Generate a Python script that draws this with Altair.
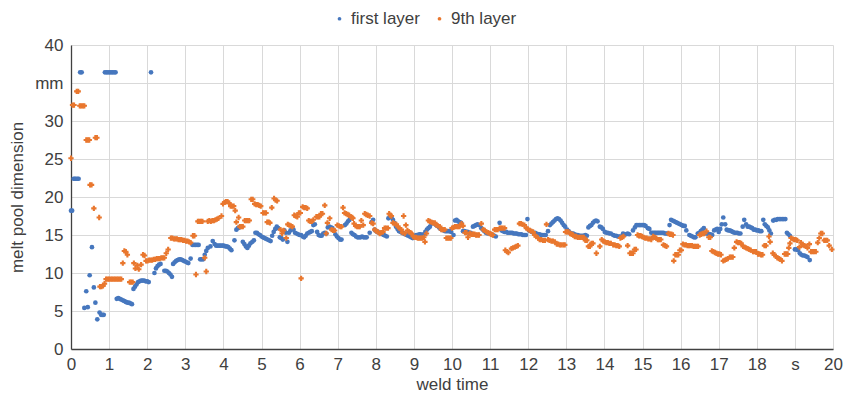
import altair as alt
import pandas as pd

# (weld time s, melt pool dimension mm)
first_layer = [
    (0.00, 18.2), (0.03, 18.2), (0.07, 22.4), (0.10, 22.4), (0.13, 22.4), (0.17, 22.4), (0.20, 22.4),
    (0.24, 36.4), (0.28, 36.4), (0.35, 5.4), (0.40, 7.6), (0.44, 5.5), (0.49, 9.7), (0.55, 13.4),
    (0.60, 8.1), (0.64, 6.1), (0.69, 3.9), (0.75, 4.8), (0.79, 4.5), (0.83, 4.5), (0.86, 4.5),
    (0.89, 36.4), (0.93, 36.4), (0.97, 36.4), (1.01, 36.4), (1.05, 36.4), (1.09, 36.4), (1.13, 36.4), (1.17, 36.4),
    (1.20, 6.6), (1.24, 6.7), (1.28, 6.6), (1.32, 6.5), (1.36, 6.4), (1.40, 6.3), (1.44, 6.2), (1.48, 6.1),
    (1.52, 6.1), (1.56, 6.0), (1.60, 5.9), (1.64, 7.9), (1.68, 8.2), (1.72, 8.5), (1.76, 8.8), (1.80, 8.9),
    (1.84, 9.0), (1.88, 9.0), (1.92, 9.0), (1.96, 8.9), (2.00, 8.9), (2.04, 8.8), (2.10, 36.4),
    (2.19, 10.0), (2.23, 10.6), (2.27, 10.9), (2.31, 11.1), (2.35, 11.2), (2.45, 10.3), (2.49, 10.3),
    (2.53, 10.2), (2.57, 10.0), (2.61, 9.8), (2.65, 9.5), (2.68, 11.2), (2.72, 11.4), (2.76, 11.6),
    (2.80, 11.7), (2.84, 11.8), (2.88, 11.8), (2.92, 11.7), (2.96, 11.6), (3.00, 11.5), (3.04, 11.4),
    (3.08, 11.3), (3.14, 11.9), (3.19, 13.7), (3.23, 13.7), (3.27, 13.7), (3.31, 13.7), (3.35, 13.7),
    (3.39, 11.8), (3.43, 11.8), (3.47, 11.8), (3.51, 12.4), (3.55, 12.9), (3.59, 13.3), (3.66, 13.5),
    (3.72, 14.2), (3.77, 13.8), (3.81, 13.6), (3.85, 13.6), (3.89, 13.6), (3.93, 13.6), (3.97, 13.6),
    (4.01, 13.6), (4.05, 13.5), (4.09, 13.5), (4.13, 13.4), (4.17, 13.2), (4.21, 13.0), (4.29, 14.3),
    (4.34, 15.7), (4.38, 15.9), (4.42, 16.0), (4.47, 16.1), (4.51, 14.1), (4.55, 13.8), (4.59, 13.5),
    (4.63, 13.3), (4.67, 13.6), (4.71, 13.9), (4.76, 14.1), (4.80, 14.3), (4.84, 15.3), (4.88, 15.3),
    (4.92, 15.1), (4.96, 15.0), (5.00, 14.8), (5.04, 14.7), (5.08, 14.6), (5.12, 14.5), (5.16, 14.4),
    (5.20, 14.3), (5.24, 14.2), (5.28, 14.9), (5.32, 15.4), (5.36, 15.8), (5.40, 16.1), (5.44, 15.9),
    (5.48, 14.7), (5.52, 14.6), (5.56, 14.4), (5.60, 15.6), (5.64, 15.3), (5.68, 14.1), (5.72, 15.3),
    (5.76, 15.6), (5.80, 15.8), (5.84, 15.7), (5.88, 15.3), (5.92, 15.2), (5.96, 15.1), (6.00, 15.0),
    (6.04, 15.0), (6.08, 14.8), (6.12, 14.7), (6.16, 14.9), (6.20, 15.2), (6.24, 15.3), (6.28, 15.4),
    (6.32, 15.5), (6.36, 16.3), (6.40, 16.4), (6.46, 15.4), (6.50, 15.0), (6.54, 14.9), (6.58, 14.9),
    (6.62, 15.2), (6.66, 15.3), (6.70, 15.2), (6.74, 16.0), (6.78, 16.1), (6.82, 16.0), (6.86, 15.9),
    (6.90, 15.6), (6.94, 15.1), (6.98, 14.8), (7.02, 14.6), (7.06, 14.4), (7.10, 14.4), (7.19, 16.3),
    (7.23, 16.5), (7.27, 16.8), (7.31, 17.0), (7.36, 15.3), (7.40, 15.1), (7.44, 15.0), (7.48, 14.8),
    (7.52, 14.7), (7.56, 14.7), (7.60, 14.7), (7.64, 14.8), (7.68, 14.7), (7.72, 14.7), (7.76, 14.7),
    (7.84, 15.3), (7.89, 16.7), (7.93, 17.0), (7.97, 15.7), (8.01, 15.5), (8.05, 15.4), (8.09, 15.3),
    (8.13, 15.2), (8.17, 15.1), (8.21, 15.0), (8.25, 14.9), (8.29, 14.8), (8.33, 17.2), (8.37, 17.4),
    (8.41, 17.3), (8.45, 17.0), (8.49, 16.6), (8.53, 16.1), (8.57, 15.8), (8.61, 15.5), (8.65, 15.4),
    (8.69, 15.3), (8.73, 15.2), (8.77, 15.1), (8.81, 15.0), (8.85, 14.9), (8.89, 14.8), (8.93, 14.7),
    (8.97, 14.6), (9.02, 14.9), (9.06, 15.0), (9.10, 15.0), (9.14, 15.1), (9.18, 15.1), (9.22, 15.0),
    (9.26, 15.1), (9.30, 15.4), (9.34, 15.7), (9.38, 15.9), (9.42, 16.1), (9.46, 16.5), (9.50, 16.6),
    (9.54, 16.5), (9.58, 16.3), (9.62, 16.2), (9.66, 16.0), (9.70, 15.8), (9.74, 15.7), (9.78, 15.6),
    (9.82, 15.5), (9.86, 15.5), (9.90, 15.5), (9.94, 15.5), (9.98, 15.4), (10.04, 15.0), (10.08, 16.9),
    (10.12, 17.0), (10.16, 16.8), (10.20, 16.7), (10.24, 16.6), (10.29, 15.5), (10.33, 15.5), (10.37, 15.4),
    (10.41, 15.4), (10.45, 15.3), (10.49, 15.3), (10.55, 16.1), (10.59, 16.2), (10.63, 16.3), (10.67, 16.4),
    (10.71, 16.3), (10.77, 15.9), (10.81, 15.7), (10.85, 15.5), (10.89, 15.3), (10.93, 15.2), (10.99, 15.2),
    (11.03, 15.1), (11.07, 15.0), (11.11, 14.9), (11.15, 14.8), (11.25, 16.6), (11.30, 15.6), (11.34, 15.5),
    (11.38, 15.4), (11.42, 15.4), (11.46, 15.3), (11.50, 15.3), (11.54, 15.3), (11.58, 15.3), (11.62, 15.2),
    (11.66, 15.2), (11.70, 15.2), (11.74, 15.1), (11.78, 15.1), (11.82, 15.1), (11.86, 15.0), (11.90, 15.0),
    (11.94, 15.0), (11.98, 17.1), (12.02, 15.6), (12.06, 15.5), (12.10, 15.4), (12.14, 15.3), (12.18, 15.3),
    (12.22, 15.2), (12.26, 15.1), (12.30, 15.1), (12.34, 15.0), (12.38, 15.0), (12.42, 15.0), (12.46, 15.0),
    (12.52, 15.5), (12.57, 16.3), (12.61, 16.5), (12.65, 16.7), (12.69, 16.9), (12.73, 17.1), (12.77, 17.2),
    (12.81, 17.1), (12.85, 16.9), (12.89, 16.6), (12.93, 16.3), (12.97, 16.1), (13.02, 15.7), (13.06, 15.5),
    (13.10, 15.3), (13.14, 15.2), (13.18, 15.2), (13.22, 15.1), (13.26, 15.0), (13.30, 15.0), (13.34, 14.9),
    (13.38, 14.9), (13.42, 14.9), (13.46, 14.9), (13.50, 15.0), (13.54, 14.9), (13.58, 16.0), (13.62, 16.2),
    (13.66, 16.3), (13.70, 16.6), (13.74, 16.8), (13.78, 16.9), (13.82, 16.8), (13.88, 16.1), (13.92, 16.0),
    (13.96, 15.8), (14.01, 15.4), (14.05, 15.3), (14.09, 15.3), (14.13, 15.2), (14.17, 15.2), (14.23, 15.0),
    (14.27, 14.9), (14.31, 14.9), (14.35, 14.8), (14.39, 14.8), (14.43, 14.8), (14.49, 15.2), (14.53, 15.1),
    (14.57, 15.1), (14.61, 15.2), (14.65, 15.1), (14.75, 15.6), (14.80, 16.0), (14.84, 16.3), (14.88, 16.3),
    (14.92, 16.3), (14.96, 16.3), (15.00, 16.3), (15.04, 16.3), (15.08, 16.2), (15.14, 15.9), (15.18, 15.8),
    (15.23, 15.3), (15.27, 15.3), (15.31, 15.3), (15.35, 15.3), (15.39, 15.3), (15.43, 15.3), (15.47, 15.3),
    (15.51, 15.3), (15.55, 15.3), (15.59, 15.2), (15.63, 15.2), (15.67, 15.2), (15.71, 16.3), (15.75, 17.0),
    (15.79, 16.9), (15.83, 16.8), (15.87, 16.7), (15.91, 16.6), (15.95, 16.5), (15.99, 16.4), (16.03, 16.3),
    (16.07, 16.2), (16.11, 16.2), (16.15, 15.6), (16.23, 15.0), (16.27, 14.9), (16.31, 14.8), (16.35, 14.7),
    (16.39, 14.7), (16.45, 15.2), (16.49, 15.3), (16.53, 15.5), (16.57, 15.7), (16.61, 15.9), (16.67, 15.2),
    (16.71, 15.2), (16.75, 15.1), (16.79, 15.1), (16.83, 15.0), (16.88, 15.6), (16.92, 15.7), (16.96, 15.8),
    (17.00, 15.4), (17.04, 15.8), (17.08, 16.4), (17.12, 17.3), (17.17, 16.4), (17.21, 15.7), (17.25, 15.6),
    (17.29, 15.6), (17.33, 15.5), (17.37, 15.4), (17.41, 15.3), (17.45, 15.3), (17.49, 15.3), (17.53, 15.2),
    (17.57, 15.2), (17.63, 16.1), (17.67, 17.0), (17.72, 16.4), (17.76, 16.1), (17.80, 16.1), (17.84, 16.0),
    (17.88, 15.9), (17.92, 15.7), (17.96, 15.7), (18.00, 15.6), (18.04, 15.6), (18.08, 15.5), (18.12, 15.5),
    (18.17, 17.0), (18.21, 16.4), (18.25, 16.2), (18.29, 16.0), (18.33, 15.6), (18.37, 15.2), (18.43, 16.9),
    (18.47, 17.0), (18.51, 17.0), (18.55, 17.1), (18.59, 17.1), (18.63, 17.1), (18.67, 17.1), (18.71, 17.1),
    (18.75, 17.1), (18.79, 15.3), (18.83, 15.1), (18.87, 14.9), (19.00, 13.1), (19.04, 13.1), (19.08, 13.0),
    (19.13, 12.6), (19.17, 12.4), (19.21, 12.3), (19.25, 12.3), (19.29, 12.2), (19.33, 12.1), (19.39, 11.7),
]

ninth_layer = [
    (0.00, 25.1), (0.04, 32.1), (0.08, 32.1), (0.15, 33.9), (0.19, 33.9), (0.23, 32.0), (0.27, 32.0),
    (0.31, 32.0), (0.35, 32.0), (0.40, 27.5), (0.44, 27.5), (0.48, 27.5), (0.50, 21.6), (0.54, 21.6),
    (0.60, 18.5), (0.64, 27.8), (0.68, 27.8), (0.74, 17.3), (0.76, 8.2), (0.80, 8.2), (0.84, 8.3),
    (0.88, 8.6), (0.92, 9.2), (0.96, 9.2), (1.00, 9.2), (1.04, 9.2), (1.08, 9.2), (1.12, 9.2), (1.16, 9.2),
    (1.20, 9.2), (1.24, 9.2), (1.28, 9.2), (1.32, 9.2), (1.36, 11.3), (1.40, 12.9), (1.44, 12.8),
    (1.48, 12.4), (1.54, 8.8), (1.58, 8.8), (1.62, 8.8), (1.65, 11.3), (1.69, 10.6), (1.74, 11.0),
    (1.78, 10.5), (1.84, 11.1), (1.89, 12.4), (1.93, 12.3), (1.97, 11.6), (2.01, 11.6), (2.05, 11.7),
    (2.09, 11.7), (2.13, 11.7), (2.17, 11.8), (2.21, 11.8), (2.25, 11.9), (2.29, 11.9), (2.33, 11.9),
    (2.37, 12.0), (2.41, 12.0), (2.45, 12.0), (2.50, 12.6), (2.55, 13.1), (2.62, 14.6), (2.66, 14.6),
    (2.70, 14.5), (2.74, 14.5), (2.78, 14.5), (2.82, 14.4), (2.86, 14.4), (2.90, 14.4), (2.94, 14.3),
    (2.98, 14.3), (3.02, 14.2), (3.06, 14.2), (3.10, 14.1), (3.14, 14.0), (3.20, 14.9), (3.24, 14.9),
    (3.28, 9.8), (3.33, 16.8), (3.37, 16.8), (3.41, 16.8), (3.45, 16.8), (3.51, 12.0), (3.55, 10.2),
    (3.59, 16.8), (3.63, 16.9), (3.67, 16.8), (3.71, 16.9), (3.75, 16.9), (3.79, 17.0), (3.83, 17.1),
    (3.87, 17.2), (3.95, 17.5), (3.99, 19.1), (4.03, 19.3), (4.07, 19.4), (4.11, 19.4), (4.15, 19.2),
    (4.19, 18.8), (4.23, 18.8), (4.27, 18.8), (4.31, 18.2), (4.34, 16.7), (4.40, 17.3), (4.43, 16.1),
    (4.47, 16.1), (4.51, 16.1), (4.56, 16.9), (4.60, 16.9), (4.64, 16.9), (4.68, 16.9), (4.73, 19.7),
    (4.77, 19.7), (4.82, 19.1), (4.86, 19.0), (4.90, 19.0), (4.94, 18.9), (4.98, 18.8), (5.04, 17.9),
    (5.08, 17.9), (5.12, 17.9), (5.15, 16.7), (5.19, 16.7), (5.22, 16.6), (5.27, 18.6), (5.33, 19.8),
    (5.37, 19.6), (5.41, 19.5), (5.50, 15.7), (5.54, 15.2), (5.58, 15.6), (5.65, 14.6), (5.69, 16.4),
    (5.73, 16.3), (5.77, 16.2), (5.81, 16.1), (5.86, 17.6), (5.90, 17.5), (5.94, 17.4), (5.98, 17.9),
    (6.02, 17.9), (6.04, 9.3), (6.08, 18.7), (6.12, 18.6), (6.16, 18.6), (6.20, 18.5), (6.24, 16.9),
    (6.28, 16.8), (6.32, 16.8), (6.36, 17.0), (6.44, 17.4), (6.48, 17.4), (6.52, 17.4), (6.56, 17.8),
    (6.60, 17.8), (6.66, 18.9), (6.70, 15.2), (6.73, 16.6), (6.79, 17.2), (6.84, 15.7), (6.88, 15.6),
    (6.92, 15.6), (6.99, 16.3), (7.03, 16.2), (7.07, 16.1), (7.10, 16.1), (7.14, 18.6), (7.18, 17.9),
    (7.22, 17.8), (7.26, 17.7), (7.30, 17.6), (7.34, 17.4), (7.38, 17.3), (7.40, 17.2), (7.43, 16.5),
    (7.47, 16.2), (7.51, 16.1), (7.55, 16.1), (7.58, 16.1), (7.62, 16.9), (7.67, 16.3), (7.71, 17.8),
    (7.75, 17.7), (7.79, 17.6), (7.84, 17.5), (7.89, 16.6), (7.93, 16.5), (7.97, 15.7), (8.01, 15.5),
    (8.06, 15.4), (8.10, 15.2), (8.14, 15.3), (8.19, 15.4), (8.23, 15.9), (8.27, 15.9), (8.32, 15.9),
    (8.35, 17.8), (8.38, 17.6), (8.41, 17.5), (8.45, 16.6), (8.49, 16.5), (8.54, 16.4), (8.58, 16.1),
    (8.62, 15.9), (8.67, 15.7), (8.70, 15.3), (8.73, 17.5), (8.76, 15.2), (8.79, 16.3), (8.83, 15.6),
    (8.87, 15.4), (8.91, 15.3), (8.94, 15.2), (8.98, 14.8), (9.02, 14.7), (9.06, 14.7), (9.10, 14.6),
    (9.14, 14.6), (9.18, 14.6), (9.22, 14.6), (9.26, 14.7), (9.29, 14.1), (9.33, 15.2), (9.38, 16.9),
    (9.42, 16.8), (9.46, 16.7), (9.50, 16.6), (9.55, 16.6), (9.59, 16.3), (9.63, 16.2), (9.68, 16.1),
    (9.72, 15.7), (9.76, 15.7), (9.81, 15.7), (9.85, 14.6), (9.89, 14.6), (9.93, 14.6), (9.97, 14.6),
    (10.00, 15.9), (10.04, 16.0), (10.08, 16.1), (10.12, 16.1), (10.16, 16.1), (10.20, 16.1), (10.25, 16.5),
    (10.29, 16.2), (10.34, 15.3), (10.38, 15.3), (10.42, 14.7), (10.47, 15.2), (10.51, 15.1), (10.55, 15.1),
    (10.59, 15.1), (10.63, 15.0), (10.67, 15.0), (10.71, 15.0), (10.77, 16.5), (10.82, 15.7), (10.86, 15.6),
    (10.90, 15.4), (10.95, 15.3), (10.99, 15.2), (11.03, 15.1), (11.07, 15.0), (11.12, 15.7), (11.16, 15.7),
    (11.20, 15.7), (11.25, 15.9), (11.29, 15.9), (11.33, 15.9), (11.38, 15.9), (11.40, 13.0), (11.44, 12.8),
    (11.48, 12.7), (11.56, 13.2), (11.60, 13.3), (11.65, 13.4), (11.69, 13.5), (11.73, 13.6), (11.77, 16.5),
    (11.81, 16.5), (11.85, 16.4), (11.90, 16.3), (11.95, 15.9), (11.99, 15.8), (12.04, 15.6), (12.08, 15.5),
    (12.13, 15.4), (12.17, 15.0), (12.21, 14.8), (12.26, 14.6), (12.30, 14.4), (12.34, 14.4), (12.39, 14.3),
    (12.44, 14.3), (12.48, 16.4), (12.52, 14.4), (12.56, 14.3), (12.61, 14.2), (12.65, 14.2), (12.70, 14.1),
    (12.75, 13.8), (12.79, 13.8), (12.83, 13.7), (12.87, 13.7), (12.92, 13.7), (12.96, 13.7), (12.98, 15.4),
    (13.02, 15.4), (13.06, 15.4), (13.10, 15.2), (13.14, 15.1), (13.18, 15.0), (13.22, 14.8), (13.26, 14.8),
    (13.30, 14.7), (13.34, 14.7), (13.38, 14.7), (13.42, 14.7), (13.46, 14.7), (13.50, 14.3), (13.54, 14.3),
    (13.58, 13.5), (13.62, 13.5), (13.66, 13.9), (13.70, 13.9), (13.79, 12.6), (13.88, 13.5), (13.93, 14.4),
    (13.97, 14.2), (14.01, 14.1), (14.05, 14.0), (14.09, 14.0), (14.13, 13.9), (14.17, 13.9), (14.23, 13.7),
    (14.27, 13.7), (14.31, 13.6), (14.35, 13.6), (14.39, 13.5), (14.42, 14.6), (14.46, 14.7), (14.50, 14.8),
    (14.61, 13.6), (14.67, 12.6), (14.71, 12.6), (14.75, 12.6), (14.79, 13.1), (14.83, 13.1), (14.87, 15.0),
    (14.91, 14.9), (14.95, 14.9), (14.99, 14.8), (15.03, 14.7), (15.07, 14.6), (15.11, 14.6), (15.15, 14.5),
    (15.19, 14.5), (15.23, 14.4), (15.28, 14.8), (15.32, 14.7), (15.36, 14.6), (15.40, 14.4), (15.44, 14.4),
    (15.48, 14.4), (15.55, 13.7), (15.59, 13.6), (15.63, 13.5), (15.68, 15.2), (15.72, 15.1), (15.76, 15.1),
    (15.80, 15.0), (15.82, 11.6), (15.86, 12.4), (15.90, 12.4), (15.94, 12.4), (15.98, 13.0), (16.02, 13.0),
    (16.06, 13.8), (16.10, 13.7), (16.14, 13.7), (16.18, 13.6), (16.22, 13.6), (16.26, 13.6), (16.30, 13.6),
    (16.34, 13.5), (16.38, 13.5), (16.42, 13.5), (16.46, 13.5), (16.50, 15.0), (16.54, 15.1), (16.58, 15.2),
    (16.62, 15.2), (16.68, 15.5), (16.74, 14.7), (16.78, 14.7), (16.82, 12.9), (16.86, 12.8), (16.90, 12.7),
    (16.94, 12.6), (16.98, 12.5), (17.02, 12.5), (17.06, 12.4), (17.12, 11.6), (17.16, 11.7), (17.20, 11.8),
    (17.24, 11.9), (17.29, 12.1), (17.33, 12.1), (17.37, 12.1), (17.41, 13.3), (17.47, 14.1), (17.51, 14.0),
    (17.55, 14.0), (17.59, 13.9), (17.64, 13.5), (17.68, 13.4), (17.72, 13.3), (17.76, 13.2), (17.80, 13.1),
    (17.84, 13.0), (17.90, 12.8), (17.94, 12.8), (17.98, 12.8), (18.03, 12.5), (18.07, 12.5), (18.11, 12.4),
    (18.15, 12.4), (18.20, 13.6), (18.24, 13.6), (18.32, 14.8), (18.35, 14.1), (18.42, 12.6), (18.46, 12.4),
    (18.50, 12.2), (18.54, 12.0), (18.58, 11.9), (18.62, 11.8), (18.66, 11.6), (18.73, 12.5), (18.77, 12.5),
    (18.81, 12.5), (18.84, 13.3), (18.87, 13.9), (18.90, 14.6), (18.94, 14.5), (18.98, 14.4), (19.02, 14.4),
    (19.06, 14.3), (19.12, 13.4), (19.16, 14.0), (19.21, 13.7), (19.25, 13.6), (19.29, 13.5), (19.33, 13.3),
    (19.38, 13.8), (19.42, 12.8), (19.46, 12.8), (19.50, 12.8), (19.55, 12.8), (19.60, 14.0), (19.64, 14.6),
    (19.68, 15.2), (19.72, 15.2), (19.77, 14.3), (19.81, 14.3), (19.85, 14.3), (19.90, 13.6), (19.97, 13.1),
]

series_names = ["first layer", "9th layer"]
series_colors = ["#4677BE", "#E9772E"]
x_ticks = list(range(0, 21))
y_ticks = [0, 5, 10, 15, 20, 25, 30, 35, 40]

df1 = pd.DataFrame(first_layer, columns=["t", "v"])
df1["series"] = series_names[0]
df2 = pd.DataFrame(ninth_layer, columns=["t", "v"])
df2["series"] = series_names[1]

FONT = "Liberation Sans"
TXT = "#404040"

x_enc = alt.X("t:Q", scale=alt.Scale(domain=[0, 20], nice=False),
              axis=alt.Axis(values=x_ticks, title="weld time",
                            labelExpr="datum.value == 19 ? 's' : datum.label"))
y_enc = alt.Y("v:Q", scale=alt.Scale(domain=[0, 40], nice=False),
              axis=alt.Axis(values=y_ticks, title="melt pool dimension",
                            labelExpr="datum.value == 35 ? 'mm' : datum.label"))
color_enc = alt.Color("series:N",
                      scale=alt.Scale(domain=series_names, range=series_colors),
                      legend=alt.Legend(title=None, orient="none", direction="horizontal",
                                        legendX=260, legendY=-35, symbolType="circle",
                                        symbolSize=14, labelFontSize=17, labelFont=FONT,
                                        labelColor=TXT, columnPadding=11,
                                        symbolOpacity=1, labelOffset=3))

blue = alt.Chart(df1).mark_point(filled=True, shape="circle", size=22, opacity=1).encode(
    x=x_enc, y=y_enc, color=color_enc)
orange = alt.Chart(df2).mark_point(filled=True, shape="cross", size=28, opacity=1).encode(
    x=x_enc, y=y_enc, color=color_enc)

chart = alt.layer(blue, orange).properties(
    width=762, height=304,
    autosize=alt.AutoSizeParams(type="none"),
    padding={"left": 63, "top": 37, "right": 15, "bottom": 45},
).configure_view(stroke=None).configure_axis(
    grid=True, gridColor="#D9D9D9", gridWidth=1,
    domainColor="#404040", domainWidth=1.3, ticks=False,
    labelFont=FONT, labelFontSize=17, labelColor=TXT,
    titleFont=FONT, titleFontSize=17, titleColor=TXT, titleFontWeight="normal",
).configure_axisX(labelPadding=7, titlePadding=4, labelFlush=False
).configure_axisY(labelPadding=8, titlePadding=8)

chart.save("out.html", embed_options={"renderer": "svg", "actions": False})
